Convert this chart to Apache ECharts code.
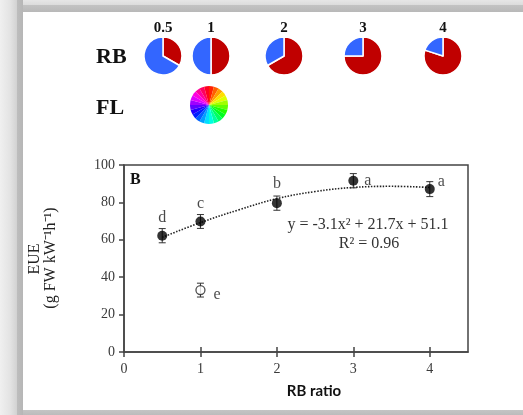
<!DOCTYPE html>
<html><head><meta charset="utf-8">
<script src="https://cdn.jsdelivr.net/npm/echarts@6/dist/echarts.min.js"></script>
<style>html,body{margin:0;padding:0;background:#fff}#c{width:523px;height:415px}</style>
</head><body><div id="c"></div>
<script>
// ---- data ----
const rbRatios = [0.5, 1, 2, 3, 4];
const rbLabels = ['0.5', '1', '2', '3', '4'];
const redParts = [1, 1, 2, 3, 4];
const blueParts = [2, 1, 1, 1, 1];
const eueValues = [62.2, 69.8, 79.6, 91.6, 87.1];
const eueErrors = [3.8, 3.7, 3.8, 3.8, 4.0];
const eueLetters = ['d', 'c', 'b', 'a', 'a'];
const flX = [1];
const flValues = [33.1];
const flErrors = [3.7];
const flLetters = ['e'];
const trendX = [0.5, 1, 1.5, 2, 2.5, 3, 3.5, 4];
const trendY = [61.3, 69.2, 76.0, 82.0, 85.8, 88.0, 88.6, 88.0];
const flHues = [0, 15, 30, 45, 60, 75, 90, 105, 120, 135, 150, 165, 180, 195, 210, 225, 240, 255, 270, 285, 300, 315, 330, 345];
const xTicks = [0, 1, 2, 3, 4];
const equationText = 'y = -3.1x² + 21.7x + 51.1';
const r2Text = 'R² = 0.96';
const yNameLine1 = 'EUE';
const yNameLine2 = '(g FW kW⁻¹h⁻¹)';
const xName = 'RB ratio';

// ---- styles ----
const SERIF = '"Liberation Serif", "Times New Roman", serif';
const RED = '#c00000', BLUE = '#3366ff';
const pieCenters = [[163, 56], [211, 56], [284, 56], [363, 56], [443, 56]];

const chart = echarts.init(document.getElementById('c'), null, {renderer: 'canvas'});

const pieSeries = rbRatios.map((r, i) => ({
  type: 'pie', center: pieCenters[i], radius: 19, startAngle: 90, clockwise: true,
  silent: true, animation: false, label: {show: false}, labelLine: {show: false},
  itemStyle: {borderColor: '#fff', borderWidth: 1.5},
  data: [
    {value: redParts[i], itemStyle: {color: RED}},
    {value: blueParts[i], itemStyle: {color: BLUE}}
  ]
}));

const flSeries = {
  type: 'pie', center: [209, 105], radius: 19, startAngle: 90, clockwise: true,
  silent: true, animation: false, label: {show: false}, labelLine: {show: false},
  itemStyle: {borderWidth: 0},
  data: flHues.map(h => ({value: 1, itemStyle: {color: 'hsl(' + (h + 7.5) + ',100%,50%)'}}))
};

const pieTitles = rbLabels.map((t, i) => ({
  text: t, left: pieCenters[i][0], top: 21, textAlign: 'center', padding: 0,
  textStyle: {fontFamily: SERIF, fontWeight: 'bold', fontSize: 15, color: '#111'}
}));

function errorBars(xs, ys, es) {
  return {
    type: 'custom', silent: true, animation: false, z: 3,
    renderItem(params, api) {
      const x = api.value(0), y = api.value(1), e = api.value(2);
      const t = api.coord([x, y + e]), b = api.coord([x, y - e]);
      const w = 3.5;
      const st = {stroke: '#333', lineWidth: 1};
      return {type: 'group', children: [
        {type: 'line', shape: {x1: t[0], y1: t[1], x2: b[0], y2: b[1]}, style: st},
        {type: 'line', shape: {x1: t[0] - w, y1: t[1], x2: t[0] + w, y2: t[1]}, style: st},
        {type: 'line', shape: {x1: b[0] - w, y1: b[1], x2: b[0] + w, y2: b[1]}, style: st}
      ]};
    },
    data: xs.map((x, i) => [x, ys[i], es[i]])
  };
}

const letterPos = [
  {position: 'top', distance: 5},
  {position: 'top', distance: 5},
  {position: 'top', distance: 6},
  {position: 'right', distance: 6, offset: [0, 0]},
  {position: 'right', distance: 3, offset: [0, -7]}
];

const option = {
  animation: false,
  backgroundColor: '#fff',
  title: pieTitles,
  grid: {left: 124, right: 55, top: 165, bottom: 63, show: true, borderColor: '#444', borderWidth: 1.5, containLabel: false},
  xAxis: [{
    type: 'value', min: 0, max: 4.5, interval: 1,
    axisLine: {show: true, lineStyle: {color: '#444', width: 1.5}},
    axisTick: {show: true, length: 5, lineStyle: {color: '#444', width: 1.5}, customValues: xTicks},
    axisLabel: {customValues: xTicks, formatter: v => String(v), fontFamily: SERIF, fontSize: 14, color: '#3a3a3a', margin: 10},
    splitLine: {show: false}
  }, {
    type: 'value', min: 0, max: 4.5, interval: 1, position: 'bottom',
    axisLine: {show: false},
    axisTick: {show: true, inside: true, length: 5, lineStyle: {color: '#444', width: 1.5}, customValues: xTicks.slice(1)},
    axisLabel: {show: false}, splitLine: {show: false}
  }],
  yAxis: {
    type: 'value', min: 0, max: 100, interval: 20,
    axisLine: {show: true, lineStyle: {color: '#444', width: 1.5}},
    axisTick: {show: true, length: 5, lineStyle: {color: '#444', width: 1.5}},
    axisLabel: {fontFamily: SERIF, fontSize: 14, color: '#3a3a3a', margin: 9},
    splitLine: {show: false}
  },
  series: [
    ...pieSeries,
    flSeries,
    {
      type: 'line', xAxisIndex: 0, data: trendX.map((x, i) => [x, trendY[i]]), smooth: 0.4,
      symbol: 'none', silent: true, z: 2,
      lineStyle: {color: '#222', width: 1.6, type: [1.5, 1.5]}
    },
    errorBars(rbRatios, eueValues, eueErrors),
    errorBars(flX, flValues, flErrors),
    {
      type: 'scatter', symbol: 'circle', symbolSize: 10, z: 4, silent: true,
      itemStyle: {color: '#000'},
      data: rbRatios.map((x, i) => ({
        value: [x, eueValues[i]],
        label: Object.assign({show: true, formatter: eueLetters[i], fontFamily: SERIF, fontSize: 16, color: '#1a1a1a'}, letterPos[i])
      }))
    },
    {
      type: 'scatter', symbol: 'circle', symbolSize: 9, z: 4, silent: true,
      itemStyle: {color: '#fff', borderColor: '#222', borderWidth: 1.3},
      data: flX.map((x, i) => ({
        value: [x, flValues[i]],
        label: {show: true, formatter: flLetters[i], position: 'right', distance: 8, offset: [0, 5], fontFamily: SERIF, fontSize: 16, color: '#1a1a1a'}
      }))
    }
  ],
  graphic: [
    {type: 'rect', shape: {x: 0, y: 0, width: 523, height: 12}, silent: true, z: 100,
      style: {fill: new echarts.graphic.LinearGradient(0, 0, 0, 1, [
        {offset: 0, color: '#e6e6e6'}, {offset: 0.4, color: '#dcdcdc'}, {offset: 0.45, color: '#c2c2c2'}, {offset: 1, color: '#b8b8b8'}])}},
    {type: 'rect', shape: {x: 0, y: 410, width: 523, height: 5}, silent: true, z: 100,
      style: {fill: new echarts.graphic.LinearGradient(0, 0, 0, 1, [
        {offset: 0, color: '#c4c4c4'}, {offset: 1, color: '#bcbcbc'}])}},
    {type: 'rect', shape: {x: 0, y: 0, width: 23, height: 415}, silent: true, z: 101,
      style: {fill: new echarts.graphic.LinearGradient(0, 0, 1, 0, [
        {offset: 0, color: '#f0f0f0'}, {offset: 0.45, color: '#e3e3e3'}, {offset: 0.72, color: '#d3d3d3'}, {offset: 0.75, color: '#bdbdbd'}, {offset: 1, color: '#b6b6b6'}])}},
    {type: 'text', left: 96, top: 46, silent: true,
      style: {text: 'RB', font: 'bold 22px ' + SERIF, fill: '#111'}},
    {type: 'text', left: 96, top: 97, silent: true,
      style: {text: 'FL', font: 'bold 22px ' + SERIF, fill: '#111'}},
    {type: 'text', left: 130, top: 172, silent: true,
      style: {text: 'B', font: 'bold 16px ' + SERIF, fill: '#111'}},
    {type: 'text', x: 35, y: 259, rotation: Math.PI / 2, silent: true,
      style: {text: yNameLine1, font: '16px ' + SERIF, fill: '#222', align: 'center', verticalAlign: 'middle'}},
    {type: 'text', x: 51, y: 258, rotation: Math.PI / 2, silent: true,
      style: {text: yNameLine2, font: '16px ' + SERIF, fill: '#222', align: 'center', verticalAlign: 'middle'}},
    {type: 'text', x: 368, y: 225, silent: true,
      style: {text: equationText, font: '16px ' + SERIF, fill: '#333', align: 'center', verticalAlign: 'middle'}},
    {type: 'text', x: 369, y: 244, silent: true,
      style: {text: r2Text, font: '16px ' + SERIF, fill: '#333', align: 'center', verticalAlign: 'middle'}},
    {type: 'text', x: 314, y: 391, silent: true,
      style: {text: xName, font: 'bold 15px Lato, "Open Sans", sans-serif', fill: '#111', align: 'center', verticalAlign: 'middle'}}
  ]
};
chart.setOption(option);
</script>
</body></html>
